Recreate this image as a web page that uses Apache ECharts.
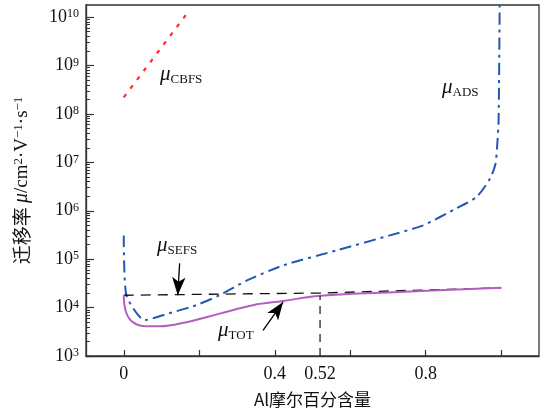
<!DOCTYPE html>
<html>
<head>
<meta charset="utf-8">
<script src="https://cdn.jsdelivr.net/npm/echarts@6/dist/echarts.min.js"></script>
<style>
  html, body { margin: 0; padding: 0; background: #fff; }
  #chart { width: 543px; height: 414px; }
</style>
</head>
<body>
<div id="chart"></div>
<script>
// values (x = Al 摩尔百分含量, y = 迁移率)
const cbfsX = [0, 0.085, 0.17];
const cbfsY = [2.2e8, 1.66e9, 1.26e10];

const adsX = [0, 0.007, 0.055, 0.12, 0.192, 0.254, 0.325, 0.421, 0.564, 0.705, 0.793, 0.882, 0.935, 0.971, 0.985, 0.989, 0.993, 0.996];
const adsY = [3.1e5, 1.8e4, 5.5e3, 7.6e3, 1.12e4, 1.8e4, 3.6e4, 7.4e4, 1.52e5, 3.1e5, 5.0e5, 1.13e6, 1.94e6, 4.7e6, 9.5e6, 2.1e7, 7.4e7, 3e10];

const totX = [0, 0.006, 0.024, 0.059, 0.095, 0.166, 0.254, 0.342, 0.422, 0.52, 0.731, 1.0];
const totY = [1.8e4, 8.1e3, 5.0e3, 4.1e3, 4.1e3, 5.0e3, 7.5e3, 1.12e4, 1.37e4, 1.75e4, 2.1e4, 2.57e4];

const sefsX = [0, 0.52, 1.0];
const sefsY = [1.8e4, 2.0e4, 2.57e4];

const markX = [0.52, 0.52];
const markY = [1e3, 1.75e4];

const xTicks = [0, 0.2, 0.4, 0.6, 0.8, 1.0];
const xLabels = [0, 0.4, 0.52, 0.8];
const yTicks = [1e3, 1e4, 1e5, 1e6, 1e7, 1e8, 1e9, 1e10];
const yMinor = [];
for (let e = 3; e <= 10; e++) {
  for (let m = 2; m <= 9; m++) {
    if (m * Math.pow(10, e) < 1.7e10) yMinor.push(m * Math.pow(10, e));
  }
}

const pair = (xs, ys) => xs.map((x, i) => [x, ys[i]]);

const serif = '"Liberation Serif", "DejaVu Serif", serif';
const cjk = '"Noto Sans CJK SC", sans-serif';
const yMax = Math.pow(10, 10.25);

function muText(sub) {
  return {
    text: "{m|μ}{s|" + sub + "}",
    rich: {
      m: { fontFamily: serif, fontSize: 21, fontStyle: "italic", fill: "#111" },
      s: { fontFamily: serif, fontSize: 13, fill: "#111", padding: [10, 0, 0, 0] },
    },
  };
}

var myChart = echarts.init(document.getElementById("chart"));
var option = {
  animation: false,
  grid: {
    left: 86,
    right: 4,
    top: 5,
    bottom: 58,
    show: true,
    borderColor: "#333",
    borderWidth: 1.3,
  },
  xAxis: {
    type: "value",
    min: -0.1,
    max: 1.1,
    name: "Al摩尔百分含量",
    nameLocation: "middle",
    nameGap: 35,
    nameTextStyle: { fontFamily: cjk, fontSize: 17, color: "#111" },
    splitLine: { show: false },
    axisLine: { onZero: false, lineStyle: { color: "#333", width: 1.3 } },
    axisTick: {
      inside: true,
      length: 6,
      customValues: xTicks,
      lineStyle: { color: "#333", width: 1.2 },
    },
    axisLabel: {
      customValues: xLabels,
      margin: 9,
      fontFamily: serif,
      fontSize: 18,
      color: "#111",
    },
  },
  yAxis: [
    {
      type: "log",
      min: 1e3,
      max: yMax,
      name: "{cn|迁移率 }{it|μ}{t|/cm}{s|2}{t|·V}{s|−1}{t|·s}{s|−1}",
      nameLocation: "middle",
      nameGap: 54,
      nameTextStyle: {
        color: "#111",
        rich: {
          cn: { fontFamily: cjk, fontSize: 19, color: "#111" },
          it: { fontFamily: serif, fontSize: 20, fontStyle: "italic", color: "#111" },
          t: { fontFamily: serif, fontSize: 19, color: "#111" },
          s: { fontFamily: serif, fontSize: 13, color: "#111", verticalAlign: "top" },
        },
      },
      splitLine: { show: false },
      axisLine: { onZero: false, lineStyle: { color: "#333", width: 1.3 } },
      axisTick: {
        inside: true,
        length: 8,
        customValues: yTicks,
        lineStyle: { color: "#333", width: 1.2 },
      },
      axisLabel: {
        customValues: yTicks,
        margin: 7,
        formatter: (v) => "{b|10}{s|" + Math.round(Math.log10(v)) + "}",
        rich: {
          b: { fontFamily: serif, fontSize: 18, color: "#111" },
          s: { fontFamily: serif, fontSize: 12, color: "#111", verticalAlign: "top" },
        },
      },
    },
    {
      type: "log",
      min: 1e3,
      max: yMax,
      position: "left",
      splitLine: { show: false },
      axisLine: { show: false, onZero: false },
      axisLabel: { show: false },
      axisTick: {
        inside: true,
        length: 4,
        customValues: yMinor,
        lineStyle: { color: "#333", width: 1 },
      },
    },
  ],
  series: [
    {
      name: "CBFS",
      type: "line",
      data: pair(cbfsX, cbfsY),
      showSymbol: false,
      lineStyle: { color: "#ff2a2a", width: 2.2, type: [4, 7] },
    },
    {
      name: "ADS",
      type: "line",
      data: pair(adsX, adsY),
      showSymbol: false,
      smooth: 0.2,
      lineStyle: { color: "#2458b0", width: 2, type: [12, 5, 3, 5] },
    },
    {
      name: "SEFS",
      type: "line",
      data: pair(sefsX, sefsY),
      showSymbol: false,
      lineStyle: { color: "#111", width: 1.3, type: [10, 7] },
      markLine: {
        silent: true,
        symbol: ["none", "arrow"],
        label: { show: false },
        lineStyle: { color: "#000", width: 1.3, type: "solid" },
        data: [
          [
            { coord: [0.148, 8.2e4], symbol: "none" },
            { coord: [0.143, 1.8e4], symbol: "arrow", symbolSize: [10, 18] },
          ],
          [
            { coord: [0.369, 3.4e3], symbol: "none" },
            { coord: [0.422, 1.3e4], symbol: "arrow", symbolSize: [10, 18] },
          ],
        ],
      },
    },
    {
      name: "TOT",
      type: "line",
      data: pair(totX, totY),
      showSymbol: false,
      smooth: 0.4,
      lineStyle: { color: "#b25fbf", width: 2 },
    },
    {
      name: "mark",
      type: "line",
      data: pair(markX, markY),
      showSymbol: false,
      lineStyle: { color: "#111", width: 1.2, type: [8, 6] },
    },
  ],
  graphic: [
    { type: "text", left: 160, top: 64, style: muText("CBFS") },
    { type: "text", left: 442, top: 77, style: muText("ADS") },
    { type: "text", left: 157, top: 235, style: muText("SEFS") },
    { type: "text", left: 218, top: 320, style: muText("TOT") },
  ],
};

myChart.setOption(option);
</script>
</body>
</html>
